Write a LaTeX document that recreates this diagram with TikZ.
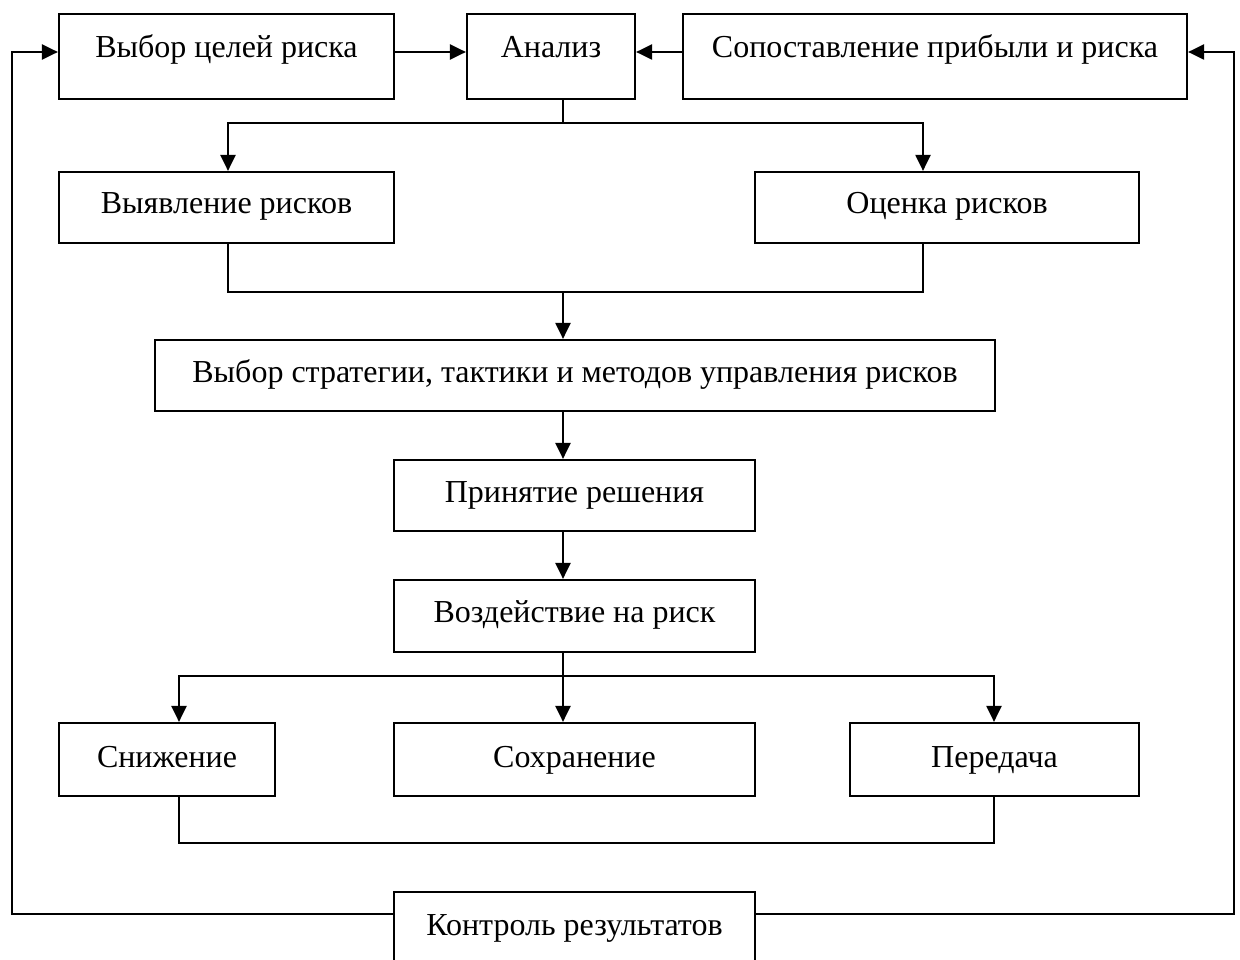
\documentclass[tikz,border=0pt]{standalone}
\usepackage{fontspec}
\setmainfont{Liberation Serif}
\usetikzlibrary{arrows.meta}
\begin{document}
\begin{tikzpicture}[x=1pt,y=-1pt,
  box/.style={draw, line width=2.2pt, inner sep=0pt, text height=22.4pt, align=center,
    font=\fontsize{32}{38}\selectfont},
  wire/.style={line width=2.2pt},
  arr/.style={wire, -{Triangle[length=16pt,width=15pt]}}]
\clip (0,0) rectangle (1240,960);
\fill[white] (0,0) rectangle (1240,960);
% boxes
\node[box, minimum width=335pt, minimum height=85pt, text depth=20.6pt] (tsel) at (226.5,56.5) {Выбор целей риска};
\node[box, minimum width=168pt, minimum height=85pt, text depth=20.6pt] (anal) at (551,56.5) {Анализ};
\node[box, minimum width=504pt, minimum height=85pt, text depth=20.6pt] (sopost) at (935,56.5) {Сопоставление прибыли и риска};
\node[box, minimum width=335pt, minimum height=71pt, text depth=10.6pt] (vyav) at (226.5,207.5) {Выявление рисков};
\node[box, minimum width=384pt, minimum height=71pt, text depth=10.6pt] (ocen) at (947,207.5) {Оценка рисков};
\node[box, minimum width=840pt, minimum height=71pt, text depth=8.6pt] (strat) at (575,375.5) {Выбор стратегии, тактики и методов управления рисков};
\node[box, minimum width=361pt, minimum height=71pt, text depth=8.6pt] (prin) at (574.5,495.5) {Принятие решения};
\node[box, minimum width=361pt, minimum height=72pt, text depth=8.6pt] (vozd) at (574.5,616) {Воздействие на риск};
\node[box, minimum width=216pt, minimum height=73pt, text depth=6.6pt] (snizh) at (167,759.5) {Снижение};
\node[box, minimum width=361pt, minimum height=73pt, text depth=6.6pt] (sohr) at (574.5,759.5) {Сохранение};
\node[box, minimum width=289pt, minimum height=73pt, text depth=6.6pt] (pered) at (994.5,759.5) {Передача};
\node[box, minimum width=361pt, minimum height=93pt, text depth=28.6pt] (kontr) at (574.5,938.5) {Контроль результатов};
% guide coordinates
\coordinate (xm) at (563,0);
\coordinate (xl) at (228,0);
\coordinate (xr) at (923,0);
\coordinate (xl2) at (179,0);
\coordinate (xr2) at (994,0);
\coordinate (xfl) at (12,0);
\coordinate (xfr) at (1234,0);
\coordinate (ytop) at (0,52);
\coordinate (y1) at (0,123);
\coordinate (y2) at (0,292);
\coordinate (y3) at (0,676);
\coordinate (y4) at (0,843);
\coordinate (yk) at (0,914);
% top row arrows
\draw[arr] (tsel.east |- ytop) -- (anal.west |- ytop);
\draw[arr] (sopost.west |- ytop) -- (anal.east |- ytop);
% analysis split
\draw[wire] (anal.south -| xm) -- (xm |- y1);
\draw[arr] (xm |- y1) -| (vyav.north -| xl);
\draw[arr] (xm |- y1) -| (ocen.north -| xr);
% merge to strategy
\draw[wire] (vyav.south -| xl) |- (xr |- y2) -- (ocen.south -| xr);
\draw[arr] (xm |- y2) -- (strat.north -| xm);
\draw[arr] (strat.south -| xm) -- (prin.north -| xm);
\draw[arr] (prin.south -| xm) -- (vozd.north -| xm);
% impact split
\draw[wire] (vozd.south -| xm) -- (xm |- y3);
\draw[arr] (xm |- y3) -| (snizh.north -| xl2);
\draw[arr] (xm |- y3) -- (sohr.north -| xm);
\draw[arr] (xm |- y3) -| (pered.north -| xr2);
% lower bracket
\draw[wire] (snizh.south -| xl2) |- (xr2 |- y4) -- (pered.south -| xr2);
% feedback loops
\draw[arr] (kontr.west |- yk) -| (xfl |- ytop) -- (tsel.west |- ytop);
\draw[arr] (kontr.east |- yk) -| (xfr |- ytop) -- (sopost.east |- ytop);
\end{tikzpicture}
\end{document}
